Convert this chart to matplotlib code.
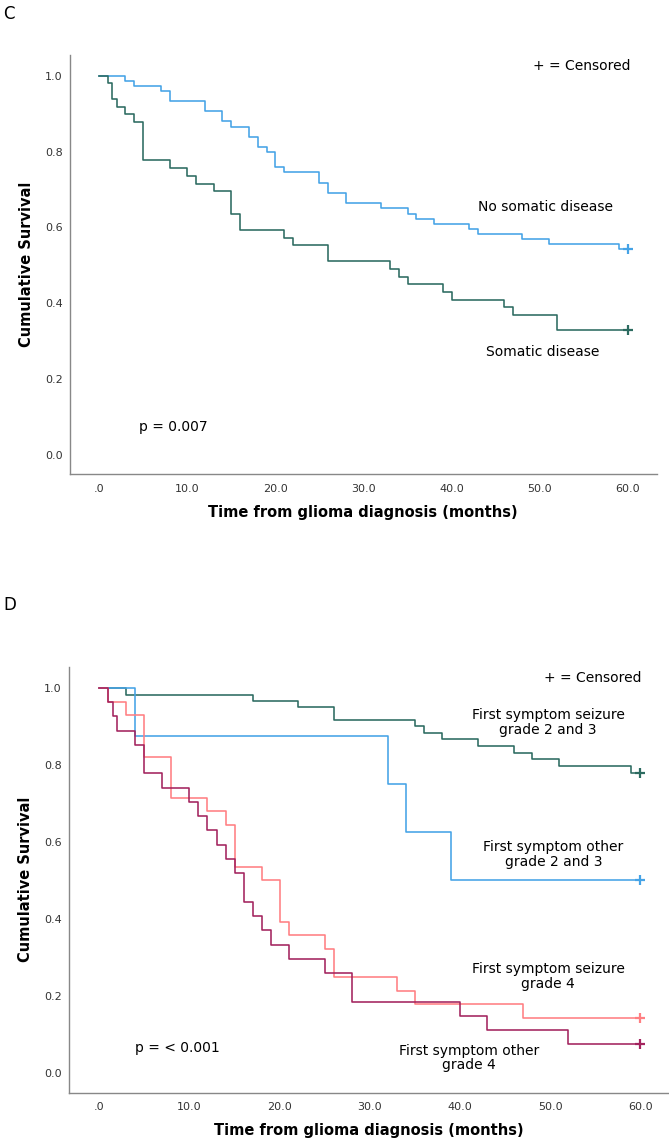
import matplotlib
matplotlib.use("Agg")
from matplotlib import pyplot as plt

# Panel C: somatic disease vs none
c_none_t = [0, 3, 4, 7, 8, 12, 14, 15, 17, 18, 19, 20, 21, 25, 26, 28, 32, 35, 36, 38, 42, 43, 48, 51, 59, 60]
c_none_s = [1.0, 0.987, 0.974, 0.960, 0.934, 0.907, 0.880, 0.866, 0.838, 0.812, 0.798, 0.759, 0.745,
            0.717, 0.690, 0.664, 0.650, 0.635, 0.622, 0.609, 0.597, 0.583, 0.569, 0.555, 0.542, 0.542]
c_som_t = [0, 1, 1.5, 2, 3, 4, 5, 8, 10, 11, 13, 15, 16, 21, 22, 26, 33, 34, 35, 39, 40, 46, 47, 52, 60]
c_som_s = [1.0, 0.981, 0.939, 0.918, 0.899, 0.878, 0.777, 0.757, 0.736, 0.715, 0.695, 0.635, 0.593,
           0.573, 0.553, 0.511, 0.491, 0.470, 0.450, 0.429, 0.409, 0.389, 0.369, 0.328, 0.328]

# Panel D: first symptom x grade
d_sz23_t = [0, 3, 17, 22, 26, 35, 36, 38, 42, 46, 48, 51, 59, 60]
d_sz23_s = [1.0, 0.982, 0.967, 0.949, 0.916, 0.900, 0.882, 0.866, 0.848, 0.831, 0.814, 0.797, 0.780, 0.780]
d_ot23_t = [0, 4, 32, 34, 39, 60]
d_ot23_s = [1.0, 0.875, 0.750, 0.625, 0.500, 0.500]
d_sz4_t = [0, 1, 3, 5, 8, 12, 14, 15, 18, 20, 21, 25, 26, 33, 35, 47, 60]
d_sz4_s = [1.0, 0.964, 0.929, 0.821, 0.714, 0.679, 0.643, 0.536, 0.500, 0.393, 0.357, 0.321, 0.250,
           0.214, 0.179, 0.143, 0.143]
d_ot4_t = [0, 1, 1.5, 2, 4, 5, 7, 10, 11, 12, 13, 14, 15, 16, 17, 18, 19, 21, 25, 28, 40, 43, 52, 60]
d_ot4_s = [1.0, 0.963, 0.926, 0.889, 0.852, 0.778, 0.741, 0.704, 0.667, 0.630, 0.593, 0.556, 0.519,
           0.444, 0.407, 0.370, 0.333, 0.296, 0.259, 0.185, 0.148, 0.111, 0.074, 0.074]

x_ticks = [0, 10, 20, 30, 40, 50, 60]
x_ticklabels = [".0", "10.0", "20.0", "30.0", "40.0", "50.0", "60.0"]
y_ticks = [0.0, 0.2, 0.4, 0.6, 0.8, 1.0]

BLUE = "#45a3e6"
TEAL = "#2c6b60"
SALMON = "#ff7f82"
MAGENTA = "#a3235e"

fig = plt.figure(figsize=(6.69, 11.46), dpi=100)
axC = fig.add_axes([0.1039, 0.5864, 0.982 - 0.1039, 0.952 - 0.5864])
axD = fig.add_axes([0.1024, 0.0466, 1.0 - 0.1024, 0.4183 - 0.0466])


def style(ax, xlim):
    ax.set_xlim(*xlim)
    ax.set_ylim(-0.051, 1.055)
    for side in ("top", "right"):
        ax.spines[side].set_visible(False)
    for side in ("left", "bottom"):
        ax.spines[side].set_color("#888888")
        ax.spines[side].set_linewidth(1.0)
    ax.set_xticks(x_ticks)
    ax.set_xticklabels(x_ticklabels)
    ax.set_yticks(y_ticks)
    ax.set_yticklabels([f"{v:.1f}" for v in y_ticks])
    ax.tick_params(axis="x", length=0, labelsize=8, colors="#333333", pad=7)
    ax.tick_params(axis="y", length=0, labelsize=8, colors="#333333", pad=5)
    ax.set_xlabel("Time from glioma diagnosis (months)", fontsize=10.5, fontweight="bold", labelpad=8)
    ax.set_ylabel("Cumulative Survival", fontsize=10.5, fontweight="bold", labelpad=8)


def km(ax, t, s, color):
    ax.step(t, s, where="post", color=color, lw=1.15)
    ax.plot(t[-1], s[-1], marker="+", ms=7, mew=1.6, color=color, ls="none")


# panel C
km(axC, c_none_t, c_none_s, BLUE)
km(axC, c_som_t, c_som_s, TEAL)
style(axC, (-3.35, 63.3))
axC.text(60.3, 1.025, "+ = Censored", ha="right", va="center", fontsize=10)
axC.text(50.7, 0.655, "No somatic disease", ha="center", va="center", fontsize=10)
axC.text(50.3, 0.272, "Somatic disease", ha="center", va="center", fontsize=10)
axC.text(4.5, 0.073, "p = 0.007", ha="left", va="center", fontsize=10)
fig.text(0.005, 0.988, "C", ha="left", va="center", fontsize=12)

# panel D
km(axD, d_sz23_t, d_sz23_s, TEAL)
km(axD, d_ot23_t, d_ot23_s, BLUE)
km(axD, d_sz4_t, d_sz4_s, SALMON)
km(axD, d_ot4_t, d_ot4_s, MAGENTA)
style(axD, (-3.42, 63.2))
axD.text(60.1, 1.026, "+ = Censored", ha="right", va="center", fontsize=10)
axD.text(49.8, 0.91, "First symptom seizure\ngrade 2 and 3", ha="center", va="center",
         fontsize=10, linespacing=1.05)
axD.text(50.4, 0.567, "First symptom other\ngrade 2 and 3", ha="center", va="center",
         fontsize=10, linespacing=1.05)
axD.text(49.8, 0.25, "First symptom seizure\ngrade 4", ha="center", va="center",
         fontsize=10, linespacing=1.05)
axD.text(41.0, 0.039, "First symptom other\ngrade 4", ha="center", va="center",
         fontsize=10, linespacing=1.05)
axD.text(4.0, 0.064, "p = < 0.001", ha="left", va="center", fontsize=10)
fig.text(0.005, 0.472, "D", ha="left", va="center", fontsize=12)

fig.savefig("out.png", dpi=100)
